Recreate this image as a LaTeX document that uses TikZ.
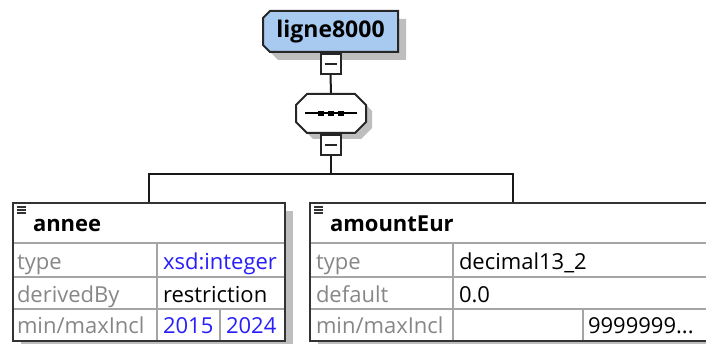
\documentclass[tikz,border=0pt]{standalone}
\usepackage{fontspec}
\setmainfont{Open Sans}
\usepackage{tikz}
\usetikzlibrary{positioning, shadows}

\definecolor{elemblue}{RGB}{168,202,240}
\definecolor{attrgray}{RGB}{135,135,135}
\definecolor{valblue}{RGB}{40,30,250}
\definecolor{gridgray}{RGB}{165,165,165}
\definecolor{shadowgray}{RGB}{190,190,190}

\begin{document}
\begin{tikzpicture}[
  x=1pt, y=-1pt,
  font=\fontsize{22}{26}\selectfont,
  line width=2pt,
  shadowed/.style={drop shadow={shadow xshift=8pt, shadow yshift=-8pt, fill=shadowgray, opacity=1}},
  outline/.style={draw=black!85, line width=2pt},
  frame/.style={inner sep=0pt},
  minusbox/.style={
    draw=black!85, fill=white,
    minimum size=20pt, inner sep=0pt,
    path picture={\draw[line width=2pt]
      ([xshift=4pt]path picture bounding box.west) --
      ([xshift=-4pt]path picture bounding box.east);}
  },
  tablebox/.style={draw=black!80, line width=2.2pt, fill=white, inner sep=0pt, shadowed},
  gridline/.style={draw=gridgray, line width=2pt},
  tabtitle/.style={anchor=base west, inner sep=0pt, font=\fontsize{22}{26}\selectfont\bfseries},
  attr/.style={anchor=base west, inner sep=0pt, text=attrgray},
  attrval/.style={anchor=base west, inner sep=0pt},
  valref/.style={attrval, text=valblue},
  conn/.style={draw=black!90, line width=2pt},
]
\useasboundingbox (0,0) rectangle (706,344);

% --- element ligne8000 ---
\fill[shadowgray, xshift=8pt, yshift=-8pt]
  (270,11) -- (398,11) -- (398,52) -- (270,52) -- (263,45) -- (263,18) -- cycle;
\filldraw[outline, fill=elemblue]
  (270,11) -- (398,11) -- (398,52) -- (270,52) -- (263,45) -- (263,18) -- cycle;
\node[frame, minimum width=135pt, minimum height=41pt, font=\fontsize{23}{26}\selectfont\bfseries]
  (ligne) at (330.5,31.5) {ligne8000};
\node[minusbox, below=0pt of ligne.south] (minusA) {};

% --- sequence compositor ---
\fill[shadowgray, xshift=6pt, yshift=-6pt]
  (307,94) -- (355,94) -- (366,105) -- (366,122) -- (355,133) -- (307,133) -- (296,122) -- (296,105) -- cycle;
\filldraw[outline, fill=white]
  (307,94) -- (355,94) -- (366,105) -- (366,122) -- (355,133) -- (307,133) -- (296,122) -- (296,105) -- cycle;
\node[frame, minimum width=70pt, minimum height=39pt] (seq) at (331,113.5) {};
\node[minusbox, below=0pt of seq.south] (minusB) {};

\draw[line width=2pt] ([xshift=-26pt]seq.center) -- ([xshift=26pt]seq.center);
\foreach \dx in {-10,0,10}
  \fill ([xshift=\dx pt]seq.center) +(-2.6pt,-2.6pt) rectangle +(2.6pt,2.6pt);

% --- left table: annee ---
\node[tablebox, minimum width=272pt, minimum height=138pt] (annee) at (149,272) {};
\draw[gridline] (14,243) -- (284,243);
\draw[gridline] (14,277) -- (284,277);
\draw[gridline] (14,309) -- (284,309);
\draw[gridline] (157,243) -- (157,340);
\draw[gridline] (220,309) -- (220,340);
\foreach \yy in {207,210,213}
  \draw[line width=1.3pt, black!80] (17,\yy) -- (26,\yy);

\node[tabtitle] (anneeT) at (32,232) {annee};
\node[attr] (anneeA1) at (16,270) {type};
\node[attr] (anneeA2) at (16,302) {derivedBy};
\node[attr] (anneeA3) at (16,334) {min/maxIncl};
\node[valref] (anneeV1) at (162,270) {xsd:integer};
\node[attrval] (anneeV2) at (162,302) {restriction};
\node[valref] (anneeV3) at (162,334) {2015};
\node[valref] (anneeV4) at (225,334) {2024};

% --- right table: amountEur ---
\node[tablebox, minimum width=406pt, minimum height=138pt] (amount) at (513,272) {};
\draw[gridline] (311,243) -- (716,243);
\draw[gridline] (311,277) -- (716,277);
\draw[gridline] (311,309) -- (716,309);
\draw[gridline] (453,243) -- (453,340);
\draw[gridline] (583,309) -- (583,340);
\foreach \yy in {207,210,213}
  \draw[line width=1.3pt, black!80] (314,\yy) -- (323,\yy);

\node[tabtitle] (amountT) at (329,232) {amountEur};
\node[attr] (amountA1) at (315,270) {type};
\node[attr] (amountA2) at (315,302) {default};
\node[attr] (amountA3) at (315,334) {min/maxIncl};
\node[attrval] (amountV1) at (458,270) {decimal13\_2};
\node[attrval] (amountV2) at (458,302) {0.0};
\node[attrval] (amountV3) at (587,334) {9999999...};

% --- connectors ---
\coordinate (fork) at (331,174);
\draw[conn] (minusA.south) -- (seq.north);
\draw[conn] (minusB.south) -- (fork);
\draw[conn] (annee.north) |- (fork) -| (amount.north);

\end{tikzpicture}
\end{document}
